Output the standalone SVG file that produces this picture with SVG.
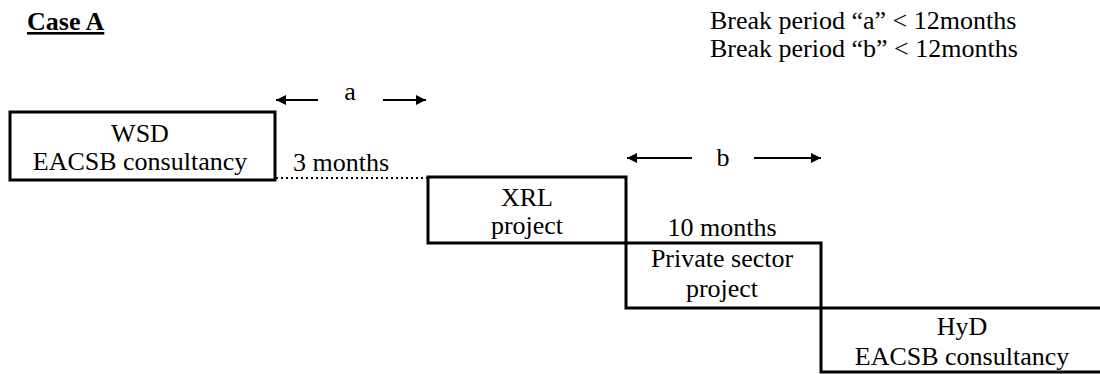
<svg xmlns="http://www.w3.org/2000/svg" width="1100" height="374" viewBox="0 0 1100 374">
<style>
text{font-family:"Liberation Serif","Times New Roman",Times,"DejaVu Serif","Noto Serif",serif;font-size:26px;fill:#000}
.c{text-anchor:middle}
.box{fill:none;stroke:#000;stroke-width:3}
.arr{stroke:#000;stroke-width:2;fill:none}
</style>
<defs>
<marker id="ah" viewBox="0 0 10 10" refX="10" refY="5" markerWidth="6" markerHeight="5" orient="auto-start-reverse" markerUnits="strokeWidth">
<path d="M0,0 L10,5 L0,10 z" fill="#000"/>
</marker>
</defs>
<rect width="1100" height="374" fill="#fff"/>
<g font-family="Liberation Serif, Times New Roman, DejaVu Serif, serif">
<text x="27" y="30" font-weight="bold" font-size="25" text-decoration="underline">Case A</text>
<text x="710" y="29">Break period “a” &lt; 12months</text>
<text x="710" y="57">Break period “b” &lt; 12months</text>
<g id="wsd">
<rect class="box" x="10" y="112" width="265" height="68"/>
<text class="c" x="140" y="142">WSD</text>
<text class="c" x="140" y="170">EACSB consultancy</text>
</g>
<g id="xrl">
<rect class="box" x="428" y="177" width="198" height="66"/>
<text class="c" x="527" y="206">XRL</text>
<text class="c" x="527" y="234">project</text>
</g>
<g id="private">
<rect class="box" x="626" y="243" width="195" height="65"/>
<text class="c" x="722" y="267">Private sector</text>
<text class="c" x="722" y="297">project</text>
</g>
<g id="hyd">
<path class="box" d="M1102,308 L821,308 L821,372 L1102,372"/>
<text class="c" x="962" y="335">HyD</text>
<text class="c" x="962" y="365">EACSB consultancy</text>
</g>
<g id="connectors">
<line x1="276" y1="178" x2="428" y2="178" stroke="#000" stroke-width="2" stroke-dasharray="2,3"/>
<line class="arr" x1="318" y1="100" x2="276" y2="100" marker-end="url(#ah)"/>
<line class="arr" x1="383" y1="100" x2="426" y2="100" marker-end="url(#ah)"/>
<line class="arr" x1="692" y1="158" x2="627" y2="158" marker-end="url(#ah)"/>
<line class="arr" x1="754" y1="158" x2="821" y2="158" marker-end="url(#ah)"/>
</g>
<text class="c" x="350" y="100">a</text>
<text class="c" x="723" y="166">b</text>
<text x="293" y="171">3 months</text>
<text class="c" x="722" y="236">10 months</text>
</g>
</svg>
